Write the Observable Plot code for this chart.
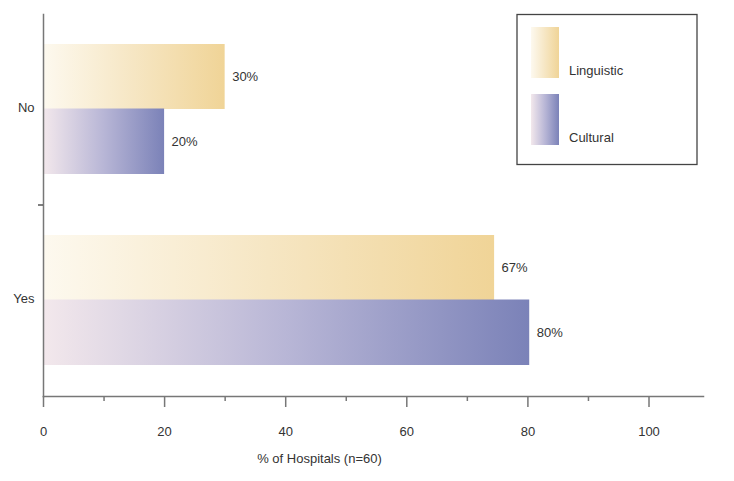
<!DOCTYPE html>
<html><head><meta charset="utf-8">
<script src="https://cdn.jsdelivr.net/npm/d3@7"></script>
<script src="https://cdn.jsdelivr.net/npm/@observablehq/plot@0.6"></script>
<style>
body{margin:0;background:#fff;}
#wrap{position:relative;width:734px;height:481px;overflow:hidden;}
#title{position:absolute;z-index:2;top:-18px;left:0;width:705px;text-align:center;font-family:"Liberation Sans",Arial,sans-serif;font-size:17px;line-height:20px;letter-spacing:1.5px;color:#222;}
#chart{position:absolute;top:0;left:0;z-index:1;}
</style></head><body>
<div id="wrap"><div id="title">(aggregated)</div><div id="chart"></div></div>
<script>
const categories = ["No", "Yes"];
const seriesNames = ["Linguistic", "Cultural"];
const linguistic = [30, 74.5];
const cultural = [20, 80.3];
const linguisticLabels = ["30%", "67%"];
const culturalLabels = ["20%", "80%"];
const majorTicks = [0, 20, 40, 60, 80, 100];
const minorTicks = [10, 30, 50, 70, 90];
const xLabel = "% of Hospitals (n=60)";

const ling = categories.map((c, i) => ({category: c, value: linguistic[i], label: linguisticLabels[i]}));
const cult = categories.map((c, i) => ({category: c, value: cultural[i], label: culturalLabels[i]}));

const FONT = '"Liberation Sans",Arial,sans-serif';

function gradientDefs() {
  const g = d3.create("svg:g");
  const defs = g.append("defs");
  const mk = (id, c0, c1, c2) => {
    const lg = defs.append("linearGradient").attr("id", id).attr("x1", 0).attr("x2", 1).attr("y1", 0).attr("y2", 0);
    lg.append("stop").attr("offset", "0%").attr("stop-color", c0);
    lg.append("stop").attr("offset", "50%").attr("stop-color", c1);
    lg.append("stop").attr("offset", "100%").attr("stop-color", c2);
  };
  mk("gradLing", "#fdf9ef", "#f6e6c3", "#f0d497");
  mk("gradCult", "#f3e8ec", "#b8b6d6", "#7b82b8");
  return g.node();
}

const chart = Plot.plot({
  width: 734,
  height: 481,
  marginLeft: 43,
  marginRight: 31,
  marginTop: 14,
  marginBottom: 85,
  style: {fontFamily: FONT, fontSize: "13px", color: "#333", background: "transparent"},
  x: {domain: [0, 109], axis: null},
  y: {domain: categories, padding: 0, axis: null},
  marks: [
    gradientDefs,
    Plot.barX(ling, {x: "value", y: "category", fill: "url(#gradLing)", insetTop: 30, insetBottom: 96}),
    Plot.barX(cult, {x: "value", y: "category", fill: "url(#gradCult)", insetTop: 94.5, insetBottom: 31}),
    Plot.text(ling, {x: "value", y: "category", text: "label", textAnchor: "start", dx: 7, dy: -33, fontSize: 13, fill: "#333"}),
    Plot.text(cult, {x: "value", y: "category", text: "label", textAnchor: "start", dx: 7, dy: 31.5, fontSize: 13, fill: "#333"}),
    Plot.axisY({tickSize: 0, tickPadding: 9, fontSize: 13, label: null, dy: -2.5}),
    Plot.axisX(majorTicks, {tickSize: 11, tickPadding: 19, fontSize: 13, label: null, stroke: "#777", strokeWidth: 1.5}),
    Plot.axisX(minorTicks, {tickSize: 5, tickFormat: () => "", label: null, stroke: "#777", strokeWidth: 1.5}),
    Plot.frame({anchor: "bottom", stroke: "#777", strokeWidth: 1.5}),
    Plot.frame({anchor: "left", stroke: "#777", strokeWidth: 1.5}),
    Plot.text([xLabel], {frameAnchor: "bottom-left", textAnchor: "middle", dx: 276, dy: 66, fontSize: 13, fill: "#333"})
  ]
});

const ys = chart.scale("y");
const xs = chart.scale("x");
const svg = d3.select(chart.tagName.toLowerCase() === "svg" ? chart : chart.querySelector("svg"));
const yb = ys.apply(categories[1]);
svg.append("line").attr("x1", xs.apply(0) - 5).attr("x2", xs.apply(0)).attr("y1", yb).attr("y2", yb)
  .attr("stroke", "#555").attr("stroke-width", 1.5);

// legend
const lg = svg.append("g").attr("font-family", FONT).attr("font-size", 13).attr("fill", "#333").attr("text-anchor", "start");
lg.append("rect").attr("x", 517).attr("y", 14.5).attr("width", 180).attr("height", 150)
  .attr("fill", "none").attr("stroke", "#444").attr("stroke-width", 1.3);
const fills = ["url(#gradLing)", "url(#gradCult)"];
seriesNames.forEach((name, i) => {
  const y0 = 27 + i * 67;
  lg.append("rect").attr("x", 531).attr("y", y0).attr("width", 28).attr("height", 51).attr("fill", fills[i]);
  lg.append("text").attr("x", 569).attr("y", y0 + 48).attr("text-anchor", "start").text(name);
});

document.getElementById("chart").appendChild(chart);
</script>
</body></html>
